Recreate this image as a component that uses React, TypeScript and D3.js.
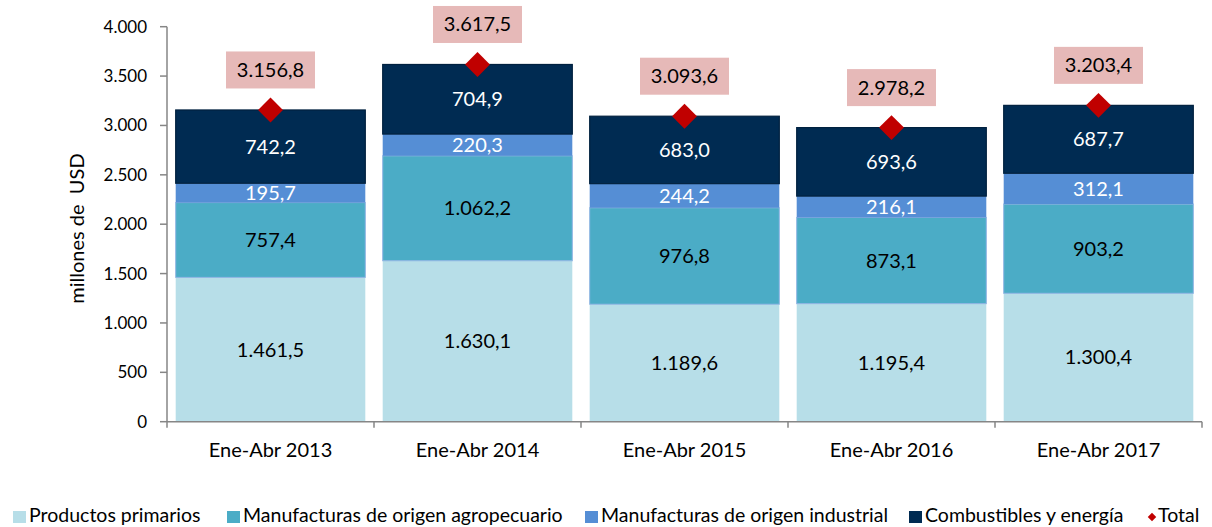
import React, { useEffect, useRef } from "react";
import * as d3 from "d3";

const categories = ["Ene-Abr 2013", "Ene-Abr 2014", "Ene-Abr 2015", "Ene-Abr 2016", "Ene-Abr 2017"];
const seriesNames = [
  "Productos primarios",
  "Manufacturas de origen agropecuario",
  "Manufacturas de origen industrial",
  "Combustibles y energía",
];
const primarios = [1461.5, 1630.1, 1189.6, 1195.4, 1300.4];
const agro = [757.4, 1062.2, 976.8, 873.1, 903.2];
const industrial = [195.7, 220.3, 244.2, 216.1, 312.1];
const combustibles = [742.2, 704.9, 683.0, 693.6, 687.7];
const totals = [3156.8, 3617.5, 3093.6, 2978.2, 3203.4];
const yTicks = [0, 500, 1000, 1500, 2000, 2500, 3000, 3500, 4000];

const colors = ["#B7DEE8", "#4BACC6", "#558ED5", "#002B52"];
const labelColors = ["#000", "#000", "#fff", "#fff"];
const FONT = "Lato, 'Open Sans', sans-serif";

const fmt = (v: number, dec: number) => {
  const s = v.toFixed(dec);
  const [i, d] = s.split(".");
  const ii = i.replace(/\B(?=(\d{3})+(?!\d))/g, ".");
  return d ? ii + "," + d : ii;
};

export default function App() {
  const ref = useRef<SVGSVGElement>(null);
  useEffect(() => {
    const svg = d3.select(ref.current);
    svg.selectAll("*").remove();
    const left = 167, right = 1202, top = 26.7, bottom = 421.7;
    const x = d3.scaleBand().domain(categories).range([left, right]).paddingInner(0.084).paddingOuter(0.042);
    const y = d3.scaleLinear().domain([0, 4000]).range([bottom, top]);
    const seriesData = [primarios, agro, industrial, combustibles];
    const rows = categories.map((c, i) => ({ cat: c, s0: primarios[i], s1: agro[i], s2: industrial[i], s3: combustibles[i] }));
    const stack = d3.stack<any>().keys(["s0", "s1", "s2", "s3"])(rows);

    const g = svg.append("g");
    stack.forEach((layer, li) => {
      g.selectAll(null)
        .data(layer)
        .enter()
        .append("rect")
        .attr("x", (d: any) => x(d.data.cat)!)
        .attr("width", x.bandwidth())
        .attr("y", (d: any) => y(d[1]))
        .attr("height", (d: any) => y(d[0]) - y(d[1]))
        .attr("fill", colors[li])
        .attr("stroke", li === 3 ? "#00213F" : li === 1 ? "#8FB4E3" : "none")
        .attr("stroke-width", li === 3 ? 1.2 : 1);
    });
    stack.forEach((layer, li) => {
      g.selectAll(null)
        .data(layer)
        .enter()
        .append("text")
        .attr("x", (d: any) => x(d.data.cat)! + x.bandwidth() / 2)
        .attr("y", (d: any) => (y(d[0]) + y(d[1])) / 2 + 7)
        .attr("text-anchor", "middle")
        .attr("font-family", FONT)
        .attr("font-size", 20)
        .attr("fill", labelColors[li])
        .text((d: any, i: number) => fmt(seriesData[li][i], 1));
    });

    const ax = svg.append("g").attr("stroke", "#868686").attr("stroke-width", 1.5);
    ax.append("line").attr("x1", left).attr("x2", left).attr("y1", top).attr("y2", bottom);
    ax.append("line").attr("x1", left).attr("x2", right).attr("y1", bottom).attr("y2", bottom);
    yTicks.forEach((t) => {
      ax.append("line").attr("x1", left - 7).attr("x2", left).attr("y1", y(t)).attr("y2", y(t));
    });
    const bounds = [left, ...categories.map((c) => x(c)! + x.bandwidth() + (x.step() - x.bandwidth()) / 2)];
    bounds.forEach((bx, i) => {
      const bxx = i === categories.length ? right : bx;
      ax.append("line").attr("x1", bxx).attr("x2", bxx).attr("y1", bottom).attr("y2", bottom + 6);
    });
    svg.append("g")
      .selectAll("text")
      .data(yTicks)
      .enter()
      .append("text")
      .attr("x", left - 20)
      .attr("y", (d) => y(d) + 6)
      .attr("text-anchor", "end")
      .attr("font-family", FONT)
      .attr("font-size", 17)
      .attr("fill", "#000")
      .text((d) => fmt(d, 0));
    svg.append("g")
      .selectAll("text")
      .data(categories)
      .enter()
      .append("text")
      .attr("x", (d) => x(d)! + x.bandwidth() / 2)
      .attr("y", 457)
      .attr("text-anchor", "middle")
      .attr("font-family", FONT)
      .attr("font-size", 20)
      .attr("fill", "#000")
      .text((d) => d);
    svg.append("text")
      .attr("transform", `translate(84,${228.5}) rotate(-90)`)
      .attr("text-anchor", "middle")
      .attr("font-family", FONT)
      .attr("font-size", 20)
      .attr("fill", "#000")
      .style("white-space", "pre")
      .text("millones de  USD");

    totals.forEach((t, i) => {
      const cx = x(categories[i])! + x.bandwidth() / 2;
      const cy = y(t);
      svg.append("rect")
        .attr("x", -8.8)
        .attr("y", -8.8)
        .attr("width", 17.6)
        .attr("height", 17.6)
        .attr("transform", `translate(${cx},${cy}) rotate(45)`)
        .attr("fill", "#C00000");
      const by = cy - 40;
      svg.append("rect")
        .attr("x", cx - 44.5)
        .attr("y", by - 18.5)
        .attr("width", 89)
        .attr("height", 37)
        .attr("fill", "#E6B9B8");
      svg.append("text")
        .attr("x", cx)
        .attr("y", by + 7)
        .attr("text-anchor", "middle")
        .attr("font-family", FONT)
        .attr("font-size", 20)
        .attr("fill", "#000")
        .text(fmt(t, 1));
    });

    const legendX = [13, 227, 585, 909, 1148];
    const ly = 516;
    seriesNames.forEach((n, i) => {
      svg.append("rect")
        .attr("x", legendX[i])
        .attr("y", ly - 5)
        .attr("width", 13)
        .attr("height", 12)
        .attr("fill", colors[i]);
      svg.append("text")
        .attr("x", legendX[i] + 16)
        .attr("y", ly + 5.5)
        .attr("font-family", FONT)
        .attr("font-size", 19.5)
        .attr("fill", "#000")
        .text(n);
    });
    svg.append("rect")
      .attr("x", -3)
      .attr("y", -3)
      .attr("width", 6)
      .attr("height", 6)
      .attr("transform", `translate(${legendX[4] + 4},${ly + 1}) rotate(45)`)
      .attr("fill", "#C00000");
    svg.append("text")
      .attr("x", legendX[4] + 10)
      .attr("y", ly + 5.5)
      .attr("font-family", FONT)
      .attr("font-size", 19.5)
      .attr("fill", "#000")
      .text("Total");
  }, []);
  return (
    <svg
      ref={ref}
      width={1212}
      height={527}
      style={{ position: "absolute", left: 0, top: 0, background: "#fff" }}
    />
  );
}
